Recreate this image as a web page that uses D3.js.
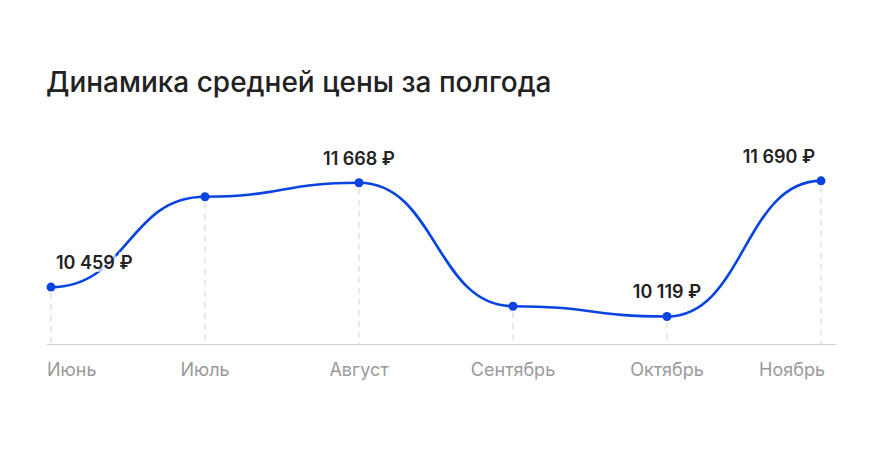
<!DOCTYPE html>
<html>
<head>
<meta charset="utf-8">
<script src="https://cdn.jsdelivr.net/npm/d3@7"></script>
<style>
  body { margin: 0; background: #fff; }
  svg { display: block; font-family: Inter, "Noto Sans", sans-serif; }
</style>
</head>
<body>
<div id="chart"></div>
<script>
// Data
var months = ["Июнь", "Июль", "Август", "Сентябрь", "Октябрь", "Ноябрь"];
var prices = [10459, 11506, 11668, 10238, 10119, 11690];
var shownLabels = [true, false, true, false, true, true];
var labelAlign = ["start", "middle", "middle", "middle", "middle", "end"];

var W = 871, H = 456;
var margin = {left: 51, right: 50};

var svg = d3.select("#chart").append("svg")
    .attr("width", W)
    .attr("height", H);

// Title
svg.append("text")
    .attr("x", 46)
    .attr("y", 92)
    .attr("fill", "#222")
    .style("font-size", "28px")
    .style("font-weight", 500)
    .text("Динамика средней цены за полгода");

var x = d3.scalePoint()
    .domain(months)
    .range([margin.left, W - margin.right]);

var y = d3.scaleLinear()
    .domain([9800, 11700])
    .range([344, 180]);

var data = months.map(function(m, i) { return {month: m, price: prices[i], i: i}; });

// Baseline
svg.append("line")
    .attr("x1", 47).attr("x2", 836)
    .attr("y1", 344.5).attr("y2", 344.5)
    .attr("stroke", "#cfcfcf")
    .attr("stroke-width", 1);

// Dashed drop lines
svg.selectAll(".drop")
    .data(data)
  .enter().append("line")
    .attr("class", "drop")
    .attr("x1", function(d) { return x(d.month); })
    .attr("x2", function(d) { return x(d.month); })
    .attr("y1", function(d) { return y(d.price) + 6; })
    .attr("y2", 344)
    .attr("stroke", "#dcdcdc")
    .attr("stroke-width", 1.3)
    .attr("stroke-dasharray", "6 5");

// Line
var line = d3.line()
    .x(function(d) { return x(d.month); })
    .y(function(d) { return y(d.price); })
    .curve(d3.curveBumpX);

svg.append("path")
    .datum(data)
    .attr("d", line)
    .attr("fill", "none")
    .attr("stroke", "#0a44e0")
    .attr("stroke-width", 2.6);

// Points
svg.selectAll(".dot")
    .data(data)
  .enter().append("circle")
    .attr("class", "dot")
    .attr("cx", function(d) { return x(d.month); })
    .attr("cy", function(d) { return y(d.price); })
    .attr("r", 4.5)
    .attr("fill", "#0a44e0");

// Value labels
svg.selectAll(".val")
    .data(data.filter(function(d) { return shownLabels[d.i]; }))
  .enter().append("text")
    .attr("class", "val")
    .attr("x", function(d) {
      var a = labelAlign[d.i];
      return x(d.month) + (a === "start" ? 5 : a === "end" ? -6 : 0);
    })
    .attr("y", function(d) { return y(d.price) - 18; })
    .attr("text-anchor", function(d) { return labelAlign[d.i]; })
    .attr("fill", "#222")
    .attr("stroke", "rgba(255,255,255,0.7)")
    .attr("stroke-width", 6)
    .attr("paint-order", "stroke")
    .style("font-size", "18px")
    .style("font-weight", 600)
    .text(function(d) { return d3.format(",")(d.price).replace(",", " ") + " ₽"; });

// Month labels
svg.selectAll(".month")
    .data(data)
  .enter().append("text")
    .attr("class", "month")
    .attr("x", function(d) {
      if (d.i === 0) return x(d.month) - 4;
      if (d.i === months.length - 1) return x(d.month) + 4;
      return x(d.month);
    })
    .attr("y", 376)
    .attr("text-anchor", function(d) {
      return d.i === 0 ? "start" : d.i === months.length - 1 ? "end" : "middle";
    })
    .attr("fill", "#9a9a9a")
    .style("font-size", "18px")
    .text(function(d) { return d.month; });
</script>
</body>
</html>
